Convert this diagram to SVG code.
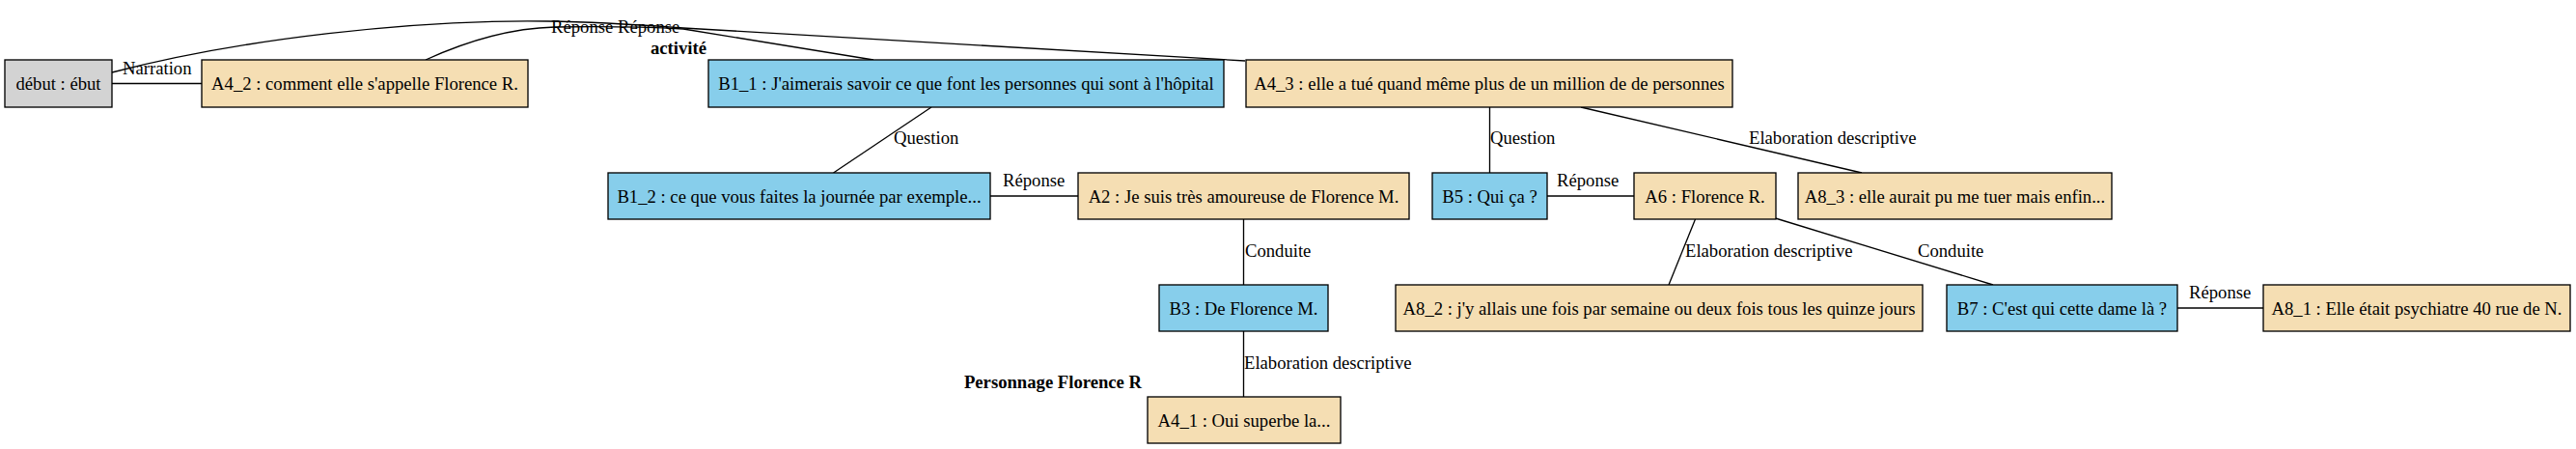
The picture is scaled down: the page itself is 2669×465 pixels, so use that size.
<svg xmlns="http://www.w3.org/2000/svg" width="2669" height="465" viewBox="0 0 2669 465">
<style>
  .n rect { stroke: #000; stroke-width: 1.33; }
  .wheat rect { fill: #f5deb3; }
  .sky rect { fill: #87ceeb; }
  .gray rect { fill: #d3d3d3; }
  text { font-family: "Liberation Serif", "Times New Roman", serif; font-size: 18.67px; fill: #000; }
  .n text { text-anchor: middle; }
  .bold { font-weight: bold; text-anchor: middle; }
  #edges path, #edges line { stroke: #000; stroke-width: 1.33; fill: none; }
</style>
<rect x="0" y="0" width="2669" height="465" fill="#fff"/>

<g id="edges">
  <path d="M116,75 C 250,40 430,20 567,22 C 630,23 680,27 708,29 L 1290,63"/>
  <path d="M441,62 C 485,42 530,29 575,28 C 640,27 690,29 708,30 L 905,62"/>
  <line x1="116" y1="86.5" x2="209" y2="86.5"/>
  <line x1="965" y1="111" x2="863.5" y2="179"/>
  <line x1="1026" y1="203" x2="1117" y2="203"/>
  <line x1="1288.5" y1="227" x2="1288.5" y2="295"/>
  <line x1="1288.5" y1="343" x2="1288.5" y2="411"/>
  <line x1="1543.5" y1="111" x2="1543.5" y2="179"/>
  <line x1="1638" y1="111" x2="1929" y2="179"/>
  <line x1="1603" y1="203" x2="1693" y2="203"/>
  <line x1="1756.5" y1="227" x2="1729" y2="295"/>
  <line x1="1839.5" y1="226" x2="2065" y2="295"/>
  <line x1="2256" y1="319" x2="2345" y2="319"/>
  <text x="127" y="77">Narration</text>
  <text x="571" y="34">Réponse</text>
  <text x="640" y="34">Réponse</text>
  <text x="926" y="149">Question</text>
  <text x="1039" y="193">Réponse</text>
  <text x="1290" y="266">Conduite</text>
  <text x="1289" y="382">Elaboration descriptive</text>
  <text x="1544" y="149">Question</text>
  <text x="1812" y="149">Elaboration descriptive</text>
  <text x="1613" y="193">Réponse</text>
  <text x="1746" y="266">Elaboration descriptive</text>
  <text x="1987" y="266">Conduite</text>
  <text x="2268" y="309">Réponse</text>
</g>

<text class="bold" x="703" y="56">activité</text>
<text class="bold" x="1091" y="402">Personnage Florence R</text>

<g id="debut" class="n gray"><rect x="5" y="62" width="111" height="49"/><text x="60.5" y="93">début : ébut</text></g>
<g id="A4_2" class="n wheat"><rect x="209" y="62" width="338" height="49"/><text x="378" y="93">A4_2 : comment elle s'appelle Florence R.</text></g>
<g id="B1_1" class="n sky"><rect x="734" y="62" width="534" height="49"/><text x="1001" y="93">B1_1 : J'aimerais savoir ce que font les personnes qui sont à l'hôpital</text></g>
<g id="A4_3" class="n wheat"><rect x="1291" y="62" width="504" height="49"/><text x="1543" y="93">A4_3 : elle a tué quand même plus de un million de de personnes</text></g>

<g id="B1_2" class="n sky"><rect x="630" y="179" width="396" height="48"/><text x="828" y="209.5">B1_2 : ce que vous faites la journée par exemple...</text></g>
<g id="A2" class="n wheat"><rect x="1117" y="179" width="343" height="48"/><text x="1288.5" y="209.5">A2 : Je suis très amoureuse de Florence M.</text></g>
<g id="B5" class="n sky"><rect x="1484" y="179" width="119" height="48"/><text x="1543.5" y="209.5">B5 : Qui ça ?</text></g>
<g id="A6" class="n wheat"><rect x="1693" y="179" width="147" height="48"/><text x="1766.5" y="209.5">A6 : Florence R.</text></g>
<g id="A8_3" class="n wheat"><rect x="1863" y="179" width="325" height="48"/><text x="2025.5" y="209.5">A8_3 : elle aurait pu me tuer mais enfin...</text></g>

<g id="B3" class="n sky"><rect x="1201" y="295" width="175" height="48"/><text x="1288.5" y="325.5">B3 : De Florence M.</text></g>
<g id="A8_2" class="n wheat"><rect x="1446" y="295" width="546" height="48"/><text x="1719" y="325.5">A8_2 : j'y allais une fois par semaine ou deux fois tous les quinze jours</text></g>
<g id="B7" class="n sky"><rect x="2017" y="295" width="239" height="48"/><text x="2136.5" y="325.5">B7 : C'est qui cette dame là ?</text></g>
<g id="A8_1" class="n wheat"><rect x="2345" y="295" width="318" height="48"/><text x="2504" y="325.5">A8_1 : Elle était psychiatre 40 rue de N.</text></g>

<g id="A4_1" class="n wheat"><rect x="1189" y="411" width="200" height="48"/><text x="1289" y="441.5">A4_1 : Oui superbe la...</text></g>
</svg>
